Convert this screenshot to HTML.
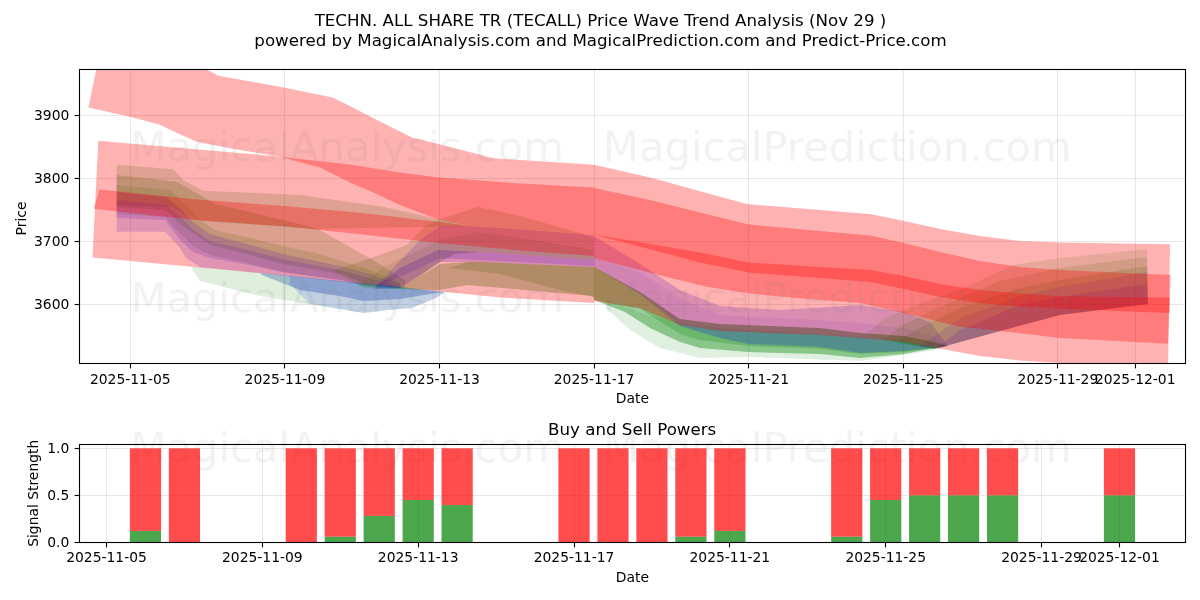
<!DOCTYPE html>
<html lang="en"><head><meta charset="utf-8"><title>TECHN. ALL SHARE TR (TECALL) Price Wave Trend Analysis</title>
<style>html,body{margin:0;padding:0;background:#fff;width:1200px;height:600px;overflow:hidden}svg text{white-space:pre}</style>
</head><body>
<svg width="1200" height="600" viewBox="0 0 1200 600" style="display:block">
<defs>
<clipPath id="c1"><rect x="79.5" y="69.5" width="1106.0" height="293.8"/></clipPath>
<clipPath id="c2"><rect x="79.5" y="444.3" width="1106.0" height="97.99999999999994"/></clipPath>
</defs>
<rect width="1200" height="600" fill="#fff"/>
<line x1="130.50" y1="69.5" x2="130.50" y2="363.3" stroke="#b0b0b0" stroke-opacity="0.3" stroke-width="1" shape-rendering="crispEdges"/>
<line x1="284.50" y1="69.5" x2="284.50" y2="363.3" stroke="#b0b0b0" stroke-opacity="0.3" stroke-width="1" shape-rendering="crispEdges"/>
<line x1="439.50" y1="69.5" x2="439.50" y2="363.3" stroke="#b0b0b0" stroke-opacity="0.3" stroke-width="1" shape-rendering="crispEdges"/>
<line x1="594.50" y1="69.5" x2="594.50" y2="363.3" stroke="#b0b0b0" stroke-opacity="0.3" stroke-width="1" shape-rendering="crispEdges"/>
<line x1="748.50" y1="69.5" x2="748.50" y2="363.3" stroke="#b0b0b0" stroke-opacity="0.3" stroke-width="1" shape-rendering="crispEdges"/>
<line x1="903.50" y1="69.5" x2="903.50" y2="363.3" stroke="#b0b0b0" stroke-opacity="0.3" stroke-width="1" shape-rendering="crispEdges"/>
<line x1="1057.50" y1="69.5" x2="1057.50" y2="363.3" stroke="#b0b0b0" stroke-opacity="0.3" stroke-width="1" shape-rendering="crispEdges"/>
<line x1="1135.50" y1="69.5" x2="1135.50" y2="363.3" stroke="#b0b0b0" stroke-opacity="0.3" stroke-width="1" shape-rendering="crispEdges"/>
<line x1="79.5" y1="304.50" x2="1185.5" y2="304.50" stroke="#b0b0b0" stroke-opacity="0.3" stroke-width="1" shape-rendering="crispEdges"/>
<line x1="79.5" y1="241.50" x2="1185.5" y2="241.50" stroke="#b0b0b0" stroke-opacity="0.3" stroke-width="1" shape-rendering="crispEdges"/>
<line x1="79.5" y1="178.50" x2="1185.5" y2="178.50" stroke="#b0b0b0" stroke-opacity="0.3" stroke-width="1" shape-rendering="crispEdges"/>
<line x1="79.5" y1="115.50" x2="1185.5" y2="115.50" stroke="#b0b0b0" stroke-opacity="0.3" stroke-width="1" shape-rendering="crispEdges"/>
<g clip-path="url(#c1)">
<polygon points="116.70,164.70 173.30,169.20 183.30,180.00 203.30,190.80 300.00,195.00 383.00,206.70 433.00,218.00 467.00,226.00 467.00,226.00 316.70,229.00 203.00,221.00 185.00,215.00 170.00,207.00 116.70,205.00" fill="#008000" fill-opacity="0.18" />
<polygon points="116.70,175.00 176.70,181.70 196.70,193.30 215.00,204.00 250.00,212.00 316.70,228.30 370.00,258.30 405.00,280.00 405.00,289.00 365.00,284.00 340.00,274.00 283.00,264.00 243.00,253.00 210.00,245.00 193.00,233.00 180.00,224.00 165.00,210.00 116.70,207.00" fill="#008000" fill-opacity="0.2" />
<polygon points="116.70,185.00 170.00,190.00 185.00,204.00 200.00,220.00 215.00,230.00 250.00,238.00 283.00,246.00 320.00,254.00 345.00,262.00 370.00,270.00 400.00,282.00 400.00,289.00 365.00,286.00 340.00,280.00 283.00,272.00 243.00,262.00 210.00,255.00 193.00,246.00 180.00,234.00 165.00,217.00 116.70,214.00" fill="#008000" fill-opacity="0.15" />
<polygon points="116.70,192.00 166.00,197.00 180.00,208.00 193.00,222.00 210.00,234.00 243.00,243.00 283.00,254.00 340.00,266.00 370.00,274.00 400.00,284.00 400.00,288.00 365.00,285.00 340.00,281.50 285.00,276.00 240.00,271.00 200.00,267.00 186.00,258.00 180.00,248.00 165.00,231.70 116.70,231.70" fill="#0000ff" fill-opacity="0.17" />
<polygon points="116.70,200.00 166.00,205.00 180.00,216.00 193.00,230.00 210.00,241.00 243.00,249.00 283.00,259.00 340.00,270.00 370.00,278.00 395.00,286.00 395.00,287.00 365.00,284.00 340.00,280.00 283.00,272.00 243.00,264.00 210.00,258.00 193.00,252.00 180.00,240.00 165.00,220.00 116.70,218.00" fill="#0000ff" fill-opacity="0.16" />
<polygon points="192.00,266.50 260.00,273.00 340.00,281.00 400.00,287.00 445.00,292.00 445.00,292.00 436.00,298.00 412.00,308.00 388.00,310.00 364.00,313.00 340.00,309.00 310.00,304.00 260.00,296.00 200.00,281.00 192.50,270.00" fill="#008000" fill-opacity="0.13" />
<polygon points="260.00,273.00 340.00,281.00 400.00,287.00 445.00,292.00 445.00,292.00 430.00,294.00 400.00,299.00 364.00,301.00 340.00,296.00 300.00,290.00 262.00,275.00" fill="#008000" fill-opacity="0.15" />
<polygon points="260.00,273.00 340.00,281.00 400.00,287.00 445.00,292.00 445.00,292.00 430.00,294.00 400.00,299.00 364.00,301.00 340.00,296.00 300.00,290.00 262.00,275.00" fill="#0000ff" fill-opacity="0.16" />
<polygon points="290.00,276.00 340.00,281.00 400.00,287.00 445.00,292.00 445.00,292.00 436.00,298.00 412.00,308.00 388.00,310.00 364.00,313.00 340.00,309.00 310.00,304.00 290.00,284.00" fill="#0000ff" fill-opacity="0.13" />
<polygon points="332.00,271.00 370.00,258.30 406.70,245.00 425.00,226.00 440.00,219.00 478.00,207.00 520.00,216.00 580.00,233.00 594.00,238.00 594.00,260.00 480.00,252.00 455.00,254.00 440.00,262.00 420.00,276.00 395.00,289.00 365.00,288.00 332.00,271.00" fill="#008000" fill-opacity="0.18" />
<polygon points="358.00,286.00 385.00,266.00 420.00,250.00 440.00,240.00 478.00,232.00 520.00,238.00 594.00,250.00 594.00,260.00 480.00,252.00 455.00,254.00 440.00,262.00 420.00,276.00 395.00,289.00 358.00,286.00" fill="#008000" fill-opacity="0.12" />
<polygon points="395.00,289.00 420.00,276.00 440.00,264.00 467.00,262.00 480.00,262.00 594.00,267.00 594.00,298.00 592.00,296.00 467.00,285.00 440.00,290.00 395.00,289.00" fill="#008000" fill-opacity="0.3" />
<polygon points="450.00,268.00 467.00,262.00 480.00,262.00 594.00,267.00 594.00,297.00 560.00,290.00 500.00,274.00 450.00,268.00" fill="#008000" fill-opacity="0.2" />
<polygon points="375.00,288.00 400.00,268.00 438.00,250.00 480.00,252.00 594.00,260.00 594.00,267.00 480.00,262.00 440.00,262.00 400.00,288.00 375.00,289.00" fill="#0000ff" fill-opacity="0.22" />
<polygon points="375.00,287.00 420.00,240.00 440.00,226.00 467.00,226.00 520.00,229.50 594.00,235.00 594.00,266.00 480.00,260.00 440.00,258.00 420.00,268.00 375.00,288.00" fill="#0000ff" fill-opacity="0.17" />
<polygon points="594.00,236.00 640.00,264.00 680.00,290.00 720.00,306.00 780.00,310.00 860.00,305.00 904.00,312.00 930.00,322.00 948.00,346.00 948.00,346.00 930.00,335.00 904.00,328.00 860.00,323.00 820.00,320.00 720.00,315.00 680.00,298.00 640.00,272.00 594.00,258.00" fill="#0000ff" fill-opacity="0.2" />
<polygon points="594.00,258.00 640.00,272.00 680.00,298.00 720.00,315.00 820.00,320.00 860.00,323.00 904.00,328.00 930.00,335.00 948.00,346.00 948.00,346.00 930.00,341.00 904.00,336.00 860.00,333.00 820.00,328.00 720.00,324.00 680.00,319.00 640.00,292.00 594.00,267.00" fill="#0000ff" fill-opacity="0.26" />
<polygon points="594.00,267.00 640.00,292.00 680.00,319.00 720.00,324.00 820.00,328.00 860.00,333.00 904.00,336.00 930.00,341.00 948.00,346.00 948.00,346.00 930.00,349.00 904.00,354.00 860.00,358.00 820.00,354.00 748.00,352.00 700.00,348.00 680.00,342.00 650.00,328.00 625.00,312.00 594.00,300.00" fill="#008000" fill-opacity="0.38" />
<polygon points="594.00,267.00 640.00,292.00 680.00,319.00 720.00,324.00 820.00,328.00 860.00,333.00 904.00,336.00 930.00,341.00 948.00,346.00 948.00,346.00 930.00,349.00 904.00,352.00 860.00,354.00 820.00,349.00 748.00,346.00 700.00,340.00 680.00,334.00 640.00,309.00 594.00,300.00" fill="#008000" fill-opacity="0.22" />
<polygon points="606.00,300.00 650.00,316.00 700.00,326.00 748.00,330.00 820.00,334.00 904.00,340.00 935.00,346.00 935.00,350.00 904.00,355.00 860.00,361.00 780.00,358.00 748.00,357.00 700.00,358.00 660.00,348.00 630.00,330.00 606.00,308.00" fill="#008000" fill-opacity="0.12" />
<polygon points="594.00,267.00 640.00,292.00 680.00,319.00 720.00,324.00 820.00,328.00 860.00,333.00 904.00,336.00 930.00,341.00 948.00,346.00 948.00,346.00 930.00,348.00 904.00,351.00 860.00,353.00 820.00,347.00 748.00,344.00 720.00,338.00 680.00,326.00 640.00,294.00 594.00,267.00" fill="#0000ff" fill-opacity="0.22" />
<polygon points="865.00,335.00 885.00,318.00 930.00,300.00 960.00,290.00 977.00,282.00 1013.00,265.00 1060.00,258.00 1147.00,249.00 1148.00,304.00 1060.00,315.00 993.00,333.00 960.00,342.00 935.00,349.00 900.00,343.00 865.00,335.00" fill="#008000" fill-opacity="0.13" />
<polygon points="885.00,339.00 900.00,326.00 960.00,298.00 1000.00,281.00 1060.00,268.00 1147.00,257.00 1148.00,304.00 1060.00,315.00 993.00,333.00 960.00,342.00 935.00,349.00 900.00,343.00 885.00,339.00" fill="#008000" fill-opacity="0.15" />
<polygon points="897.00,342.00 910.00,333.00 960.00,308.00 1020.00,288.00 1060.00,280.00 1147.00,266.00 1148.00,304.00 1060.00,315.00 993.00,333.00 960.00,342.00 935.00,349.00 900.00,343.00 897.00,342.00" fill="#008000" fill-opacity="0.15" />
<polygon points="920.00,346.00 960.00,318.00 1020.00,296.00 1060.00,287.00 1147.00,272.00 1148.00,304.00 1060.00,315.00 993.00,333.00 960.00,342.00 935.00,349.00 920.00,346.50" fill="#0000ff" fill-opacity="0.12" />
<polygon points="935.00,349.00 960.00,330.00 1020.00,305.00 1060.00,297.00 1147.00,284.00 1148.00,304.00 1060.00,315.00 993.00,333.00 960.00,342.00 935.00,349.00" fill="#0000ff" fill-opacity="0.16" />
<polygon points="98.20,60.00 190.00,60.00 206.70,69.50 218.30,75.80 280.00,86.70 332.50,97.50 350.00,106.00 375.00,119.00 412.00,137.50 450.00,147.00 462.00,150.00 493.00,158.30 594.00,164.70 594.00,234.50 520.00,229.00 466.70,225.50 437.00,219.00 400.00,205.00 370.00,191.00 350.00,182.50 320.00,167.50 280.00,156.70 230.00,148.30 196.70,141.70 180.00,134.20 158.30,124.20 130.00,116.70 88.40,107.50" fill="#ff0000" fill-opacity="0.3" />
<polygon points="98.25,140.75 270.00,155.75 350.00,164.50 400.00,172.50 439.00,177.50 516.70,183.30 594.00,187.50 594.00,303.00 500.00,297.50 260.00,273.00 92.50,257.50" fill="#ff0000" fill-opacity="0.3" />
<polygon points="99.50,189.50 200.00,199.70 284.00,206.00 360.00,212.80 439.00,222.00 466.70,225.50 520.00,229.00 594.00,234.50 594.00,256.00 520.00,250.50 439.00,243.00 360.00,234.20 284.00,226.30 200.00,220.50 93.75,208.75" fill="#ff0000" fill-opacity="0.3" />
<polygon points="594.00,164.70 650.00,177.50 666.70,182.00 700.00,191.25 746.70,204.00 820.00,210.00 870.00,214.00 904.00,221.00 940.00,229.00 980.00,236.00 1020.00,241.00 1060.00,242.40 1170.00,244.25 1168.00,372.00 1060.00,363.00 1020.00,360.50 980.00,356.00 953.00,351.00 930.00,347.00 904.00,342.00 860.00,338.00 820.00,335.00 720.00,331.00 680.00,325.00 640.00,308.00 594.00,301.00" fill="#ff0000" fill-opacity="0.3" />
<polygon points="594.00,188.00 650.00,200.00 700.00,212.50 748.75,224.50 820.00,231.00 870.00,235.60 904.00,243.00 940.00,252.00 980.00,261.00 1020.00,267.00 1060.00,270.00 1170.75,275.00 1168.00,343.75 1060.00,338.00 1000.00,331.00 960.00,326.70 904.00,313.00 860.00,303.00 790.00,297.50 748.30,293.30 706.70,286.70 656.70,274.50 640.00,270.00 620.00,265.00 594.00,258.00" fill="#ff0000" fill-opacity="0.3" />
<polygon points="594.00,234.50 700.00,252.50 748.75,262.50 790.00,265.00 820.00,267.00 870.00,270.00 904.00,276.00 940.00,284.00 980.00,290.00 1020.00,293.50 1060.00,296.25 1170.00,297.50 1169.50,313.00 1060.00,308.75 1020.00,306.50 980.00,303.00 940.00,297.00 904.00,289.00 870.00,282.00 820.00,278.00 790.00,275.80 748.75,272.50 700.00,262.50 594.00,234.50" fill="#ff0000" fill-opacity="0.3" />
</g>
<text x="130.5" y="161.3" font-family="DejaVu Sans, Liberation Sans, sans-serif" font-size="41.67" fill="#808080" fill-opacity="0.1">MagicalAnalysis.com</text>
<text x="603" y="161.3" font-family="DejaVu Sans, Liberation Sans, sans-serif" font-size="41.67" fill="#808080" fill-opacity="0.1">MagicalPrediction.com</text>
<text x="130.5" y="311.7" font-family="DejaVu Sans, Liberation Sans, sans-serif" font-size="41.67" fill="#808080" fill-opacity="0.1">MagicalAnalysis.com</text>
<text x="603" y="311.7" font-family="DejaVu Sans, Liberation Sans, sans-serif" font-size="41.67" fill="#808080" fill-opacity="0.1">MagicalPrediction.com</text>
<text x="130.5" y="462.1" font-family="DejaVu Sans, Liberation Sans, sans-serif" font-size="41.67" fill="#808080" fill-opacity="0.1">MagicalAnalysis.com</text>
<text x="603" y="462.1" font-family="DejaVu Sans, Liberation Sans, sans-serif" font-size="41.67" fill="#808080" fill-opacity="0.1">MagicalPrediction.com</text>
<rect x="79.5" y="69.5" width="1106.0" height="294.0" stroke="#000" stroke-width="1.1" fill="none"/>
<line x1="130.50" y1="363.5" x2="130.50" y2="368.4" stroke="#000" stroke-width="1.1"/>
<text x="130.30" y="383.80" text-anchor="middle" font-family="DejaVu Sans, Liberation Sans, sans-serif" font-size="13.89" fill="#000">2025-11-05</text>
<line x1="284.50" y1="363.5" x2="284.50" y2="368.4" stroke="#000" stroke-width="1.1"/>
<text x="284.90" y="383.80" text-anchor="middle" font-family="DejaVu Sans, Liberation Sans, sans-serif" font-size="13.89" fill="#000">2025-11-09</text>
<line x1="439.50" y1="363.5" x2="439.50" y2="368.4" stroke="#000" stroke-width="1.1"/>
<text x="439.50" y="383.80" text-anchor="middle" font-family="DejaVu Sans, Liberation Sans, sans-serif" font-size="13.89" fill="#000">2025-11-13</text>
<line x1="594.50" y1="363.5" x2="594.50" y2="368.4" stroke="#000" stroke-width="1.1"/>
<text x="594.10" y="383.80" text-anchor="middle" font-family="DejaVu Sans, Liberation Sans, sans-serif" font-size="13.89" fill="#000">2025-11-17</text>
<line x1="748.50" y1="363.5" x2="748.50" y2="368.4" stroke="#000" stroke-width="1.1"/>
<text x="748.70" y="383.80" text-anchor="middle" font-family="DejaVu Sans, Liberation Sans, sans-serif" font-size="13.89" fill="#000">2025-11-21</text>
<line x1="903.50" y1="363.5" x2="903.50" y2="368.4" stroke="#000" stroke-width="1.1"/>
<text x="903.30" y="383.80" text-anchor="middle" font-family="DejaVu Sans, Liberation Sans, sans-serif" font-size="13.89" fill="#000">2025-11-25</text>
<line x1="1057.50" y1="363.5" x2="1057.50" y2="368.4" stroke="#000" stroke-width="1.1"/>
<text x="1057.90" y="383.80" text-anchor="middle" font-family="DejaVu Sans, Liberation Sans, sans-serif" font-size="13.89" fill="#000">2025-11-29</text>
<line x1="1135.50" y1="363.5" x2="1135.50" y2="368.4" stroke="#000" stroke-width="1.1"/>
<text x="1135.20" y="383.80" text-anchor="middle" font-family="DejaVu Sans, Liberation Sans, sans-serif" font-size="13.89" fill="#000">2025-12-01</text>
<line x1="74.6" y1="304.50" x2="79.5" y2="304.50" stroke="#000" stroke-width="1.1"/>
<text x="69.30" y="308.90" text-anchor="end" font-family="DejaVu Sans, Liberation Sans, sans-serif" font-size="13.89" fill="#000">3600</text>
<line x1="74.6" y1="241.50" x2="79.5" y2="241.50" stroke="#000" stroke-width="1.1"/>
<text x="69.30" y="245.90" text-anchor="end" font-family="DejaVu Sans, Liberation Sans, sans-serif" font-size="13.89" fill="#000">3700</text>
<line x1="74.6" y1="178.50" x2="79.5" y2="178.50" stroke="#000" stroke-width="1.1"/>
<text x="69.30" y="182.90" text-anchor="end" font-family="DejaVu Sans, Liberation Sans, sans-serif" font-size="13.89" fill="#000">3800</text>
<line x1="74.6" y1="115.50" x2="79.5" y2="115.50" stroke="#000" stroke-width="1.1"/>
<text x="69.30" y="119.90" text-anchor="end" font-family="DejaVu Sans, Liberation Sans, sans-serif" font-size="13.89" fill="#000">3900</text>
<text x="632.4" y="402.6" text-anchor="middle" font-family="DejaVu Sans, Liberation Sans, sans-serif" font-size="13.89" fill="#000">Date</text>
<text transform="translate(25.9,218.5) rotate(-90)" text-anchor="middle" font-family="DejaVu Sans, Liberation Sans, sans-serif" font-size="13.89" fill="#000">Price</text>
<text x="600.5" y="25.5" text-anchor="middle" font-family="DejaVu Sans, Liberation Sans, sans-serif" font-size="16.67" fill="#000">TECHN. ALL SHARE TR (TECALL) Price Wave Trend Analysis (Nov 29 )</text>
<text x="600.5" y="46.4" text-anchor="middle" font-family="DejaVu Sans, Liberation Sans, sans-serif" font-size="16.67" fill="#000">powered by MagicalAnalysis.com and MagicalPrediction.com and Predict-Price.com</text>
<line x1="106.50" y1="444.3" x2="106.50" y2="542.3" stroke="#b0b0b0" stroke-opacity="0.3" stroke-width="1" shape-rendering="crispEdges"/>
<line x1="262.50" y1="444.3" x2="262.50" y2="542.3" stroke="#b0b0b0" stroke-opacity="0.3" stroke-width="1" shape-rendering="crispEdges"/>
<line x1="418.50" y1="444.3" x2="418.50" y2="542.3" stroke="#b0b0b0" stroke-opacity="0.3" stroke-width="1" shape-rendering="crispEdges"/>
<line x1="574.50" y1="444.3" x2="574.50" y2="542.3" stroke="#b0b0b0" stroke-opacity="0.3" stroke-width="1" shape-rendering="crispEdges"/>
<line x1="729.50" y1="444.3" x2="729.50" y2="542.3" stroke="#b0b0b0" stroke-opacity="0.3" stroke-width="1" shape-rendering="crispEdges"/>
<line x1="885.50" y1="444.3" x2="885.50" y2="542.3" stroke="#b0b0b0" stroke-opacity="0.3" stroke-width="1" shape-rendering="crispEdges"/>
<line x1="1041.50" y1="444.3" x2="1041.50" y2="542.3" stroke="#b0b0b0" stroke-opacity="0.3" stroke-width="1" shape-rendering="crispEdges"/>
<line x1="1119.50" y1="444.3" x2="1119.50" y2="542.3" stroke="#b0b0b0" stroke-opacity="0.3" stroke-width="1" shape-rendering="crispEdges"/>
<line x1="79.5" y1="542.50" x2="1185.5" y2="542.50" stroke="#b0b0b0" stroke-opacity="0.3" stroke-width="1" shape-rendering="crispEdges"/>
<line x1="79.5" y1="495.50" x2="1185.5" y2="495.50" stroke="#b0b0b0" stroke-opacity="0.3" stroke-width="1" shape-rendering="crispEdges"/>
<line x1="79.5" y1="448.50" x2="1185.5" y2="448.50" stroke="#b0b0b0" stroke-opacity="0.3" stroke-width="1" shape-rendering="crispEdges"/>
<g clip-path="url(#c2)">
<rect x="129.86" y="530.93" width="31.2" height="11.37" fill="#008000" fill-opacity="0.7"/>
<rect x="129.86" y="448.30" width="31.2" height="82.63" fill="#ff0000" fill-opacity="0.7"/>
<rect x="168.82" y="448.30" width="31.2" height="94.00" fill="#ff0000" fill-opacity="0.7"/>
<rect x="285.70" y="448.30" width="31.2" height="94.00" fill="#ff0000" fill-opacity="0.7"/>
<rect x="324.66" y="536.66" width="31.2" height="5.64" fill="#008000" fill-opacity="0.7"/>
<rect x="324.66" y="448.30" width="31.2" height="88.36" fill="#ff0000" fill-opacity="0.7"/>
<rect x="363.62" y="515.89" width="31.2" height="26.41" fill="#008000" fill-opacity="0.7"/>
<rect x="363.62" y="448.30" width="31.2" height="67.59" fill="#ff0000" fill-opacity="0.7"/>
<rect x="402.58" y="500.00" width="31.2" height="42.30" fill="#008000" fill-opacity="0.7"/>
<rect x="402.58" y="448.30" width="31.2" height="51.70" fill="#ff0000" fill-opacity="0.7"/>
<rect x="441.54" y="505.08" width="31.2" height="37.22" fill="#008000" fill-opacity="0.7"/>
<rect x="441.54" y="448.30" width="31.2" height="56.78" fill="#ff0000" fill-opacity="0.7"/>
<rect x="558.42" y="448.30" width="31.2" height="94.00" fill="#ff0000" fill-opacity="0.7"/>
<rect x="597.38" y="448.30" width="31.2" height="94.00" fill="#ff0000" fill-opacity="0.7"/>
<rect x="636.34" y="448.30" width="31.2" height="94.00" fill="#ff0000" fill-opacity="0.7"/>
<rect x="675.30" y="536.66" width="31.2" height="5.64" fill="#008000" fill-opacity="0.7"/>
<rect x="675.30" y="448.30" width="31.2" height="88.36" fill="#ff0000" fill-opacity="0.7"/>
<rect x="714.26" y="530.93" width="31.2" height="11.37" fill="#008000" fill-opacity="0.7"/>
<rect x="714.26" y="448.30" width="31.2" height="82.63" fill="#ff0000" fill-opacity="0.7"/>
<rect x="831.14" y="536.66" width="31.2" height="5.64" fill="#008000" fill-opacity="0.7"/>
<rect x="831.14" y="448.30" width="31.2" height="88.36" fill="#ff0000" fill-opacity="0.7"/>
<rect x="870.10" y="500.00" width="31.2" height="42.30" fill="#008000" fill-opacity="0.7"/>
<rect x="870.10" y="448.30" width="31.2" height="51.70" fill="#ff0000" fill-opacity="0.7"/>
<rect x="909.06" y="495.30" width="31.2" height="47.00" fill="#008000" fill-opacity="0.7"/>
<rect x="909.06" y="448.30" width="31.2" height="47.00" fill="#ff0000" fill-opacity="0.7"/>
<rect x="948.02" y="495.30" width="31.2" height="47.00" fill="#008000" fill-opacity="0.7"/>
<rect x="948.02" y="448.30" width="31.2" height="47.00" fill="#ff0000" fill-opacity="0.7"/>
<rect x="986.98" y="495.30" width="31.2" height="47.00" fill="#008000" fill-opacity="0.7"/>
<rect x="986.98" y="448.30" width="31.2" height="47.00" fill="#ff0000" fill-opacity="0.7"/>
<rect x="1103.86" y="495.30" width="31.2" height="47.00" fill="#008000" fill-opacity="0.7"/>
<rect x="1103.86" y="448.30" width="31.2" height="47.00" fill="#ff0000" fill-opacity="0.7"/>
</g>
<rect x="79.5" y="444.5" width="1106.0" height="98.0" stroke="#000" stroke-width="1.1" fill="none"/>
<line x1="106.50" y1="542.5" x2="106.50" y2="547.4" stroke="#000" stroke-width="1.1"/>
<text x="106.50" y="561.90" text-anchor="middle" font-family="DejaVu Sans, Liberation Sans, sans-serif" font-size="13.89" fill="#000">2025-11-05</text>
<line x1="262.50" y1="542.5" x2="262.50" y2="547.4" stroke="#000" stroke-width="1.1"/>
<text x="262.34" y="561.90" text-anchor="middle" font-family="DejaVu Sans, Liberation Sans, sans-serif" font-size="13.89" fill="#000">2025-11-09</text>
<line x1="418.50" y1="542.5" x2="418.50" y2="547.4" stroke="#000" stroke-width="1.1"/>
<text x="418.18" y="561.90" text-anchor="middle" font-family="DejaVu Sans, Liberation Sans, sans-serif" font-size="13.89" fill="#000">2025-11-13</text>
<line x1="574.50" y1="542.5" x2="574.50" y2="547.4" stroke="#000" stroke-width="1.1"/>
<text x="574.02" y="561.90" text-anchor="middle" font-family="DejaVu Sans, Liberation Sans, sans-serif" font-size="13.89" fill="#000">2025-11-17</text>
<line x1="729.50" y1="542.5" x2="729.50" y2="547.4" stroke="#000" stroke-width="1.1"/>
<text x="729.86" y="561.90" text-anchor="middle" font-family="DejaVu Sans, Liberation Sans, sans-serif" font-size="13.89" fill="#000">2025-11-21</text>
<line x1="885.50" y1="542.5" x2="885.50" y2="547.4" stroke="#000" stroke-width="1.1"/>
<text x="885.70" y="561.90" text-anchor="middle" font-family="DejaVu Sans, Liberation Sans, sans-serif" font-size="13.89" fill="#000">2025-11-25</text>
<line x1="1041.50" y1="542.5" x2="1041.50" y2="547.4" stroke="#000" stroke-width="1.1"/>
<text x="1041.54" y="561.90" text-anchor="middle" font-family="DejaVu Sans, Liberation Sans, sans-serif" font-size="13.89" fill="#000">2025-11-29</text>
<line x1="1119.50" y1="542.5" x2="1119.50" y2="547.4" stroke="#000" stroke-width="1.1"/>
<text x="1119.46" y="561.90" text-anchor="middle" font-family="DejaVu Sans, Liberation Sans, sans-serif" font-size="13.89" fill="#000">2025-12-01</text>
<line x1="74.6" y1="542.50" x2="79.5" y2="542.50" stroke="#000" stroke-width="1.1"/>
<text x="69.30" y="546.90" text-anchor="end" font-family="DejaVu Sans, Liberation Sans, sans-serif" font-size="13.89" fill="#000">0.0</text>
<line x1="74.6" y1="495.50" x2="79.5" y2="495.50" stroke="#000" stroke-width="1.1"/>
<text x="69.30" y="499.90" text-anchor="end" font-family="DejaVu Sans, Liberation Sans, sans-serif" font-size="13.89" fill="#000">0.5</text>
<line x1="74.6" y1="448.50" x2="79.5" y2="448.50" stroke="#000" stroke-width="1.1"/>
<text x="69.30" y="452.90" text-anchor="end" font-family="DejaVu Sans, Liberation Sans, sans-serif" font-size="13.89" fill="#000">1.0</text>
<text x="632.4" y="581.6" text-anchor="middle" font-family="DejaVu Sans, Liberation Sans, sans-serif" font-size="13.89" fill="#000">Date</text>
<text transform="translate(37.6,493.3) rotate(-90)" text-anchor="middle" font-family="DejaVu Sans, Liberation Sans, sans-serif" font-size="13.89" fill="#000">Signal Strength</text>
<text x="632.2" y="434.7" text-anchor="middle" font-family="DejaVu Sans, Liberation Sans, sans-serif" font-size="16.67" fill="#000">Buy and Sell Powers</text>
</svg>
</body></html>
